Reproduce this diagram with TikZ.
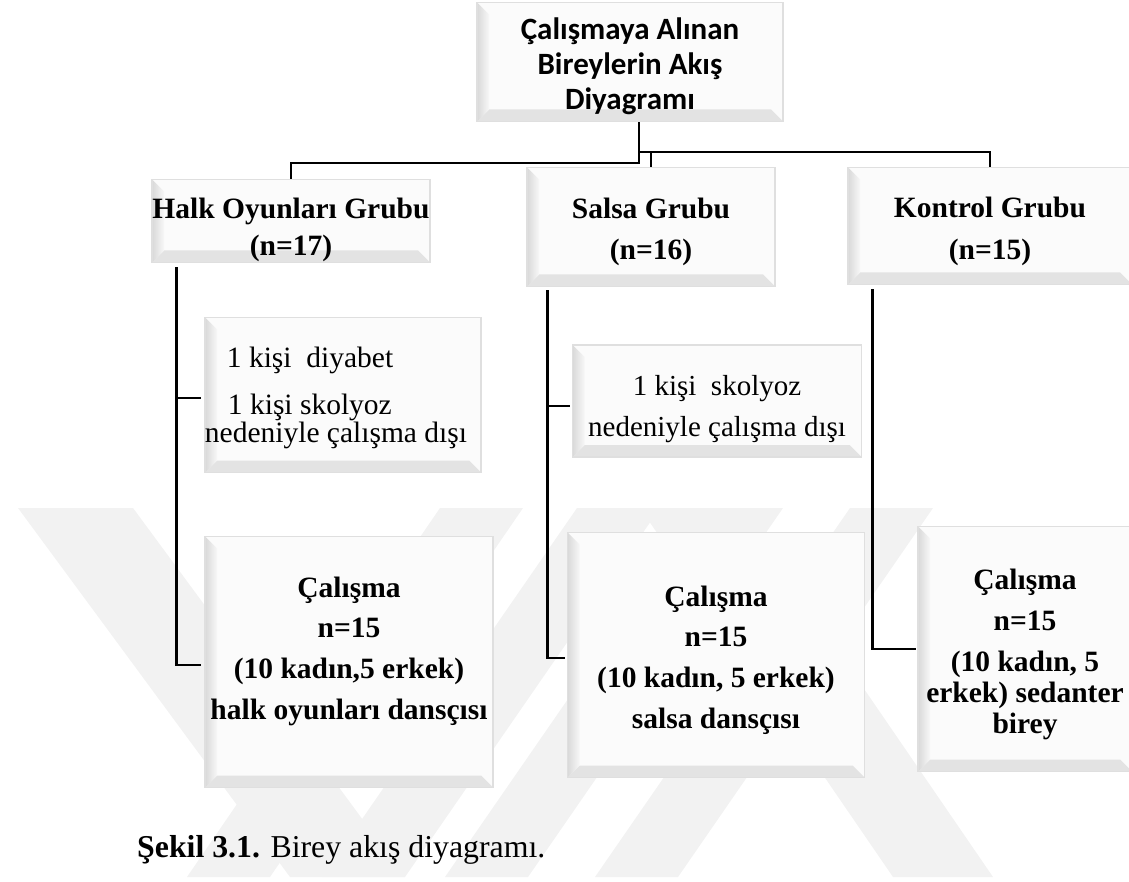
\documentclass[tikz,border=0pt]{standalone}
\usepackage{fontspec}
\setmainfont{Liberation Serif}
\newfontfamily\calib{Carlito}
\usetikzlibrary{positioning, backgrounds}
\def\gap#1{\\[#1pt]}

\begin{document}
\begin{tikzpicture}[x=1pt, y=-1pt,
              bevel/.style = {shape=rectangle, draw=gray!25, line width=1.2pt,
                fill=gray!3, inner sep=0pt,
                path picture={
                  \fill[gray!22] (path picture bounding box.south west) -- ++(12,-12)
                    -- ([xshift=-12, yshift=12]path picture bounding box.south east)
                    -- (path picture bounding box.south east) -- cycle;
                  \shade[left color=gray!30, right color=gray!6]
                    (path picture bounding box.south west) -- ++(12,-12)
                    -- ([xshift=12, yshift=-12]path picture bounding box.north west)
                    -- (path picture bounding box.north west) -- cycle;
                }},
              txt/.style = {align=center, inner sep=0pt},
              wire/.style = {line width=2.8pt, black},
              stripe/.style = {fill=gray!10, draw=none}]

  \useasboundingbox (0,0) rectangle (1129,882);

  % watermark
  \fill[stripe] (18,508) -- (133,508) -- (405,877) -- (290,877) -- cycle;
  \fill[stripe] (440,508) -- (523,508) -- (270,877) -- (187,877) -- cycle;
  \fill[stripe] (577,508) -- (660,508) -- (405,877) -- (322,877) -- cycle;
  \fill[stripe] (700,508) -- (783,508) -- (528,877) -- (445,877) -- cycle;
  \fill[stripe] (850,508) -- (933,508) -- (678,877) -- (595,877) -- cycle;
  \fill[stripe] (640,508) -- (740,508) -- (993,877) -- (893,877) -- cycle;

  % boxes
  \node[bevel, minimum width=306, minimum height=119,
        label={[txt, yshift=-4pt, font=\calib\bfseries\fontsize{31}{35}\selectfont]center:{Çalışmaya Alınan\\ Bireylerin Akış\\ Diyagramı}}]
    (top) at (630,62) {};

  \node[bevel, minimum width=278, minimum height=83,
        label={[txt, yshift=-9pt, font=\bfseries\fontsize{29.5}{37}\selectfont]center:{Halk Oyunları Grubu\\ (n=17)}}]
    (halk) at (291,221) {};
  \node[bevel, minimum width=248, minimum height=119,
        label={[txt, yshift=-5pt, font=\bfseries\fontsize{29.5}{41}\selectfont]center:{Salsa Grubu\\ (n=16)}}]
    (salsa) at (651,227) {};
  \node[bevel, minimum width=284, minimum height=117,
        label={[txt, yshift=-5pt, font=\bfseries\fontsize{29.5}{42}\selectfont]center:{Kontrol Grubu\\ (n=15)}}]
    (kontrol) at (990,226) {};

  \node[bevel, minimum width=276, minimum height=155,
        label={[txt, align=left, xshift=-7pt, yshift=-3pt, font=\fontsize{29.5}{26}\selectfont]center:{\hspace{22pt}1 kişi\ \ diyabet\gap{19}\hspace{23pt}1 kişi skolyoz\\ nedeniyle çalışma dışı}}]
    (diyabet) at (343,395) {};
  \node[bevel, minimum width=289, minimum height=112,
        label={[txt, yshift=-8pt, font=\fontsize{29}{41}\selectfont]center:{1 kişi\ \ skolyoz\\ nedeniyle çalışma dışı}}]
    (skolyoz) at (717,401) {};

  \node[bevel, minimum width=288, minimum height=251,
        label={[txt, yshift=11pt, font=\bfseries\fontsize{29.5}{40.7}\selectfont]center:{Çalışma\\ n=15\\ (10 kadın,5 erkek)\\ halk oyunları dansçısı}}]
    (halkcal) at (349,662) {};
  \node[bevel, minimum width=297, minimum height=245,
        label={[txt, yshift=-5pt, font=\bfseries\fontsize{29.5}{40.7}\selectfont]center:{Çalışma\\ n=15\\ (10 kadın, 5 erkek)\\ salsa dansçısı}}]
    (salsacal) at (716,655) {};
  \node[bevel, minimum width=214, minimum height=245,
        label={[txt, yshift=-5pt, font=\bfseries\fontsize{29.5}{31}\selectfont]center:{Çalışma\gap{10} n=15\gap{10} (10 kadın, 5\\ erkek) sedanter\\ birey}}]
    (kontrolcal) at (1025,649) {};

  % connectors
  \coordinate (hub) at ([xshift=9]top.south);
  \draw[wire] (hub) -- (hub |- 0,163) -| (halk.north);
  \draw[wire] (hub |- 0,152) -| (kontrol.north);
  \draw[wire] (salsa.north) -- (salsa.north |- 0,152);

  \coordinate (hl) at ([xshift=25, yshift=-4]halk.south west);
  \draw[wire] (hl) |- ([xshift=-3, yshift=-3]halkcal.west);
  \draw[wire] (hl |- diyabet.west) ++(0,3) -- ([xshift=-3, yshift=-3]diyabet.west);

  \coordinate (sl) at ([xshift=21, yshift=-3]salsa.south west);
  \draw[wire] (sl) |- ([xshift=-2, yshift=-3]salsacal.west);
  \draw[wire] (sl |- skolyoz.west) ++(0,5) -- ([xshift=-2, yshift=-5]skolyoz.west);

  \coordinate (kl) at ([xshift=25, yshift=-4]kontrol.south west);
  \draw[wire] (kl) |- ([xshift=-1]kontrolcal.west);

  % caption
  \node[anchor=base west, inner sep=0pt, font=\fontsize{31.8}{34}\selectfont]
    (cap) at (137,857) {\textbf{Şekil 3.1.} Birey akış diyagramı.};
\end{tikzpicture}
\end{document}
